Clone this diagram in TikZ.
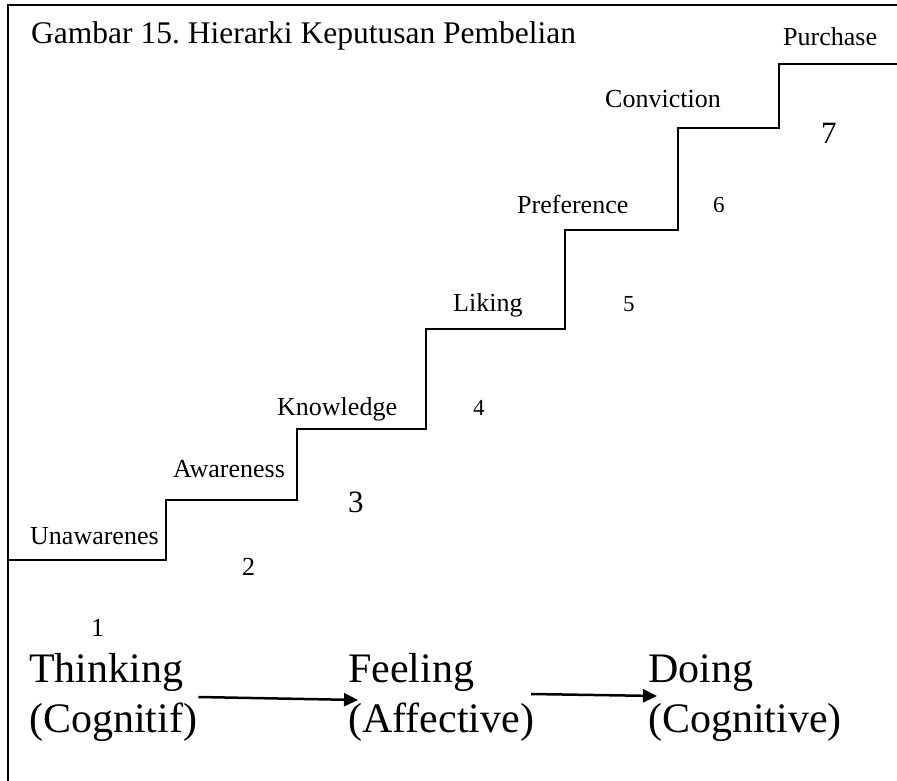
\documentclass[tikz,border=0pt]{standalone}
\usepackage{fontspec}
\setmainfont{Liberation Serif}
\usetikzlibrary{arrows.meta}
\frenchspacing
\begin{document}
\begin{tikzpicture}[x=1pt,y=-1pt,
  every node/.style={inner sep=0pt, anchor=base west},
  title/.style={font=\fontsize{31.5}{36}\selectfont},
  stage/.style={font=\fontsize{26}{30}\selectfont},
  numsmall/.style={font=\fontsize{23}{27}\selectfont},
  nummid/.style={font=\fontsize{26}{30}\selectfont},
  numbig/.style={font=\fontsize{31}{35}\selectfont},
  phase/.style={font=\fontsize{42}{50}\selectfont},
  stair/.style={line width=2pt, line join=miter},
  flow/.style={line width=2.5pt, -{Triangle[length=14pt,width=13pt]}}]
\useasboundingbox (0,0) rectangle (897,781);

% frame: left and top edges
\draw[line width=2pt] (8,781) -- (8,5.5) -- (897,5.5);

\node[title] (ttl) at (31,44) {Gambar 15. Hierarki Keputusan Pembelian};

% staircase
\draw[stair] (8,560) -- (166,560) -- (166,500) -- (297,500) -- (297,429)
  -- (426,429) -- (426,329) -- (565,329) -- (565,230) -- (678,230)
  -- (678,128) -- (779,128) -- (779,64) -- (897,64);

% step names
\node[stage] (s1) at (30,544)  {Unawarenes};
\node[stage] (s2) at (173,477) {Awareness};
\node[stage] (s3) at (277,415) {Knowledge};
\node[stage] (s4) at (453,311) {Liking};
\node[stage] (s5) at (517,213) {Preference};
\node[stage] (s6) at (605,108) {Conviction};
\node[stage] (s7) at (783,46)  {Purchase};

% step numbers
\node[nummid]   (n1) at (91,636)  {1};
\node[nummid]   (n2) at (242,575) {2};
\node[numbig]   (n3) at (348,512) {3};
\node[numsmall] (n4) at (473,415) {4};
\node[numsmall] (n5) at (623,311) {5};
\node[numsmall] (n6) at (713,212) {6};
\node[numbig]   (n7) at (821,143) {7};

% phases
\node[phase] (think) at (29,682)
  {\begin{tabular}[t]{@{}l@{}}Thinking\\(Cognitif)\end{tabular}};
\node[phase] (feel) at (348,682)
  {\begin{tabular}[t]{@{}l@{}}Feeling\\(Affective)\end{tabular}};
\node[phase] (doing) at (648,682)
  {\begin{tabular}[t]{@{}l@{}}Doing\\(Cognitive)\end{tabular}};

\draw[flow] ([xshift=1pt]think.east) -- ([xshift=10pt,yshift=-3pt]feel.west);
\draw[flow] ([xshift=-3pt,yshift=3pt]feel.east) -- ([xshift=9pt,yshift=1pt]doing.west);
\end{tikzpicture}
\end{document}
